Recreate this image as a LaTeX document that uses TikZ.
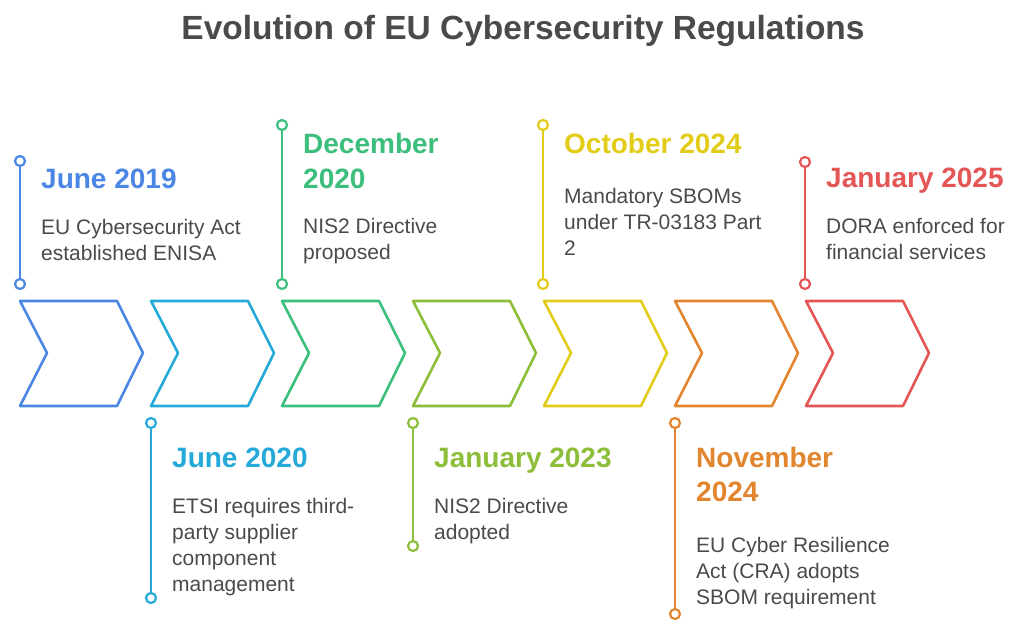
\documentclass[tikz,border=0pt]{standalone}
\usepackage{fontspec}
\setmainfont{Liberation Sans}
\usepackage{tikz}

\definecolor{cBlue}{HTML}{4C86E4}
\definecolor{cCyan}{HTML}{25A9D8}
\definecolor{cGreen}{HTML}{3CBE7C}
\definecolor{cLime}{HTML}{8CBE3A}
\definecolor{cYellow}{HTML}{E2CC18}
\definecolor{cOrange}{HTML}{E2852F}
\definecolor{cRed}{HTML}{E45555}
\definecolor{txtgray}{HTML}{4A4A4A}

\begin{document}
\begin{tikzpicture}[x=1pt,y=-1pt,
	chev/.style={line width=2.6pt,line join=round},
	pin/.style={line width=2.4pt},
	dot/.style={circle,draw,line width=2.2pt,fill=white,minimum size=10pt,inner sep=0pt},
	date/.style={anchor=base west,inner sep=0pt,align=left,font=\fontsize{28}{34}\selectfont\bfseries},
	desc/.style={anchor=base west,inner sep=0pt,align=left,text=txtgray,font=\fontsize{21}{26}\selectfont}]
	\useasboundingbox (0,0) rectangle (1024,639);
	\node[anchor=base,text=txtgray,font=\fontsize{33.5}{38}\selectfont\bfseries] (title) at (523,40) {Evolution of EU Cybersecurity Regulations};
	% chevrons
	\foreach \x/\c in {20/cBlue,151/cCyan,282/cGreen,413/cLime,544/cYellow,675/cOrange,806/cRed}
		\draw[chev,\c] (\x,301) -- ++(97,0) -- ++(26,52) -- ++(-26,53) -- ++(-97,0) -- ++(27,-53) -- cycle;
	% pins above
	\node[dot,draw=cBlue] (p1a) at (20,161) {};
	\node[dot,draw=cBlue] (p1b) at (20,284) {};
	\draw[pin,cBlue] (p1a) -- (p1b);
	\node[dot,draw=cGreen] (p3a) at (282,125) {};
	\node[dot,draw=cGreen] (p3b) at (282,284) {};
	\draw[pin,cGreen] (p3a) -- (p3b);
	\node[dot,draw=cYellow] (p5a) at (543,125) {};
	\node[dot,draw=cYellow] (p5b) at (543,284) {};
	\draw[pin,cYellow] (p5a) -- (p5b);
	\node[dot,draw=cRed] (p7a) at (805,162) {};
	\node[dot,draw=cRed] (p7b) at (805,284) {};
	\draw[pin,cRed] (p7a) -- (p7b);
	% pins below
	\node[dot,draw=cCyan] (p2a) at (151,423) {};
	\node[dot,draw=cCyan] (p2b) at (151,598) {};
	\draw[pin,cCyan] (p2a) -- (p2b);
	\node[dot,draw=cLime] (p4a) at (413,423) {};
	\node[dot,draw=cLime] (p4b) at (413,546) {};
	\draw[pin,cLime] (p4a) -- (p4b);
	\node[dot,draw=cOrange] (p6a) at (675,423) {};
	\node[dot,draw=cOrange] (p6b) at (675,614) {};
	\draw[pin,cOrange] (p6a) -- (p6b);
	% labels (base = last line)
	\node[date,text=cBlue] (d1) at (41,188) {June 2019};
	\node[desc] (t1) at (41,260) {EU Cybersecurity Act\\established ENISA};
	\node[date,text=cCyan] (d2) at (172,467) {June 2020};
	\node[desc] (t2) at (172,591) {ETSI requires third-\\party supplier\\component\\management};
	\node[date,text=cGreen] (d3) at (303,188) {December\\2020};
	\node[desc] (t3) at (303,259) {NIS2 Directive\\proposed};
	\node[date,text=cLime] (d4) at (434,467) {January 2023};
	\node[desc] (t4) at (434,539) {NIS2 Directive\\adopted};
	\node[date,text=cYellow] (d5) at (564,154) {October 2024};
	\node[desc] (t5) at (564,255) {Mandatory SBOMs\\under TR-03183 Part\\2};
	\node[date,text=cOrange] (d6) at (696,501) {November\\2024};
	\node[desc] (t6) at (696,604) {EU Cyber Resilience\\Act (CRA) adopts\\SBOM requirement};
	\node[date,text=cRed] (d7) at (826,187) {January 2025};
	\node[desc] (t7) at (826,259) {DORA enforced for\\financial services};
\end{tikzpicture}
\end{document}
